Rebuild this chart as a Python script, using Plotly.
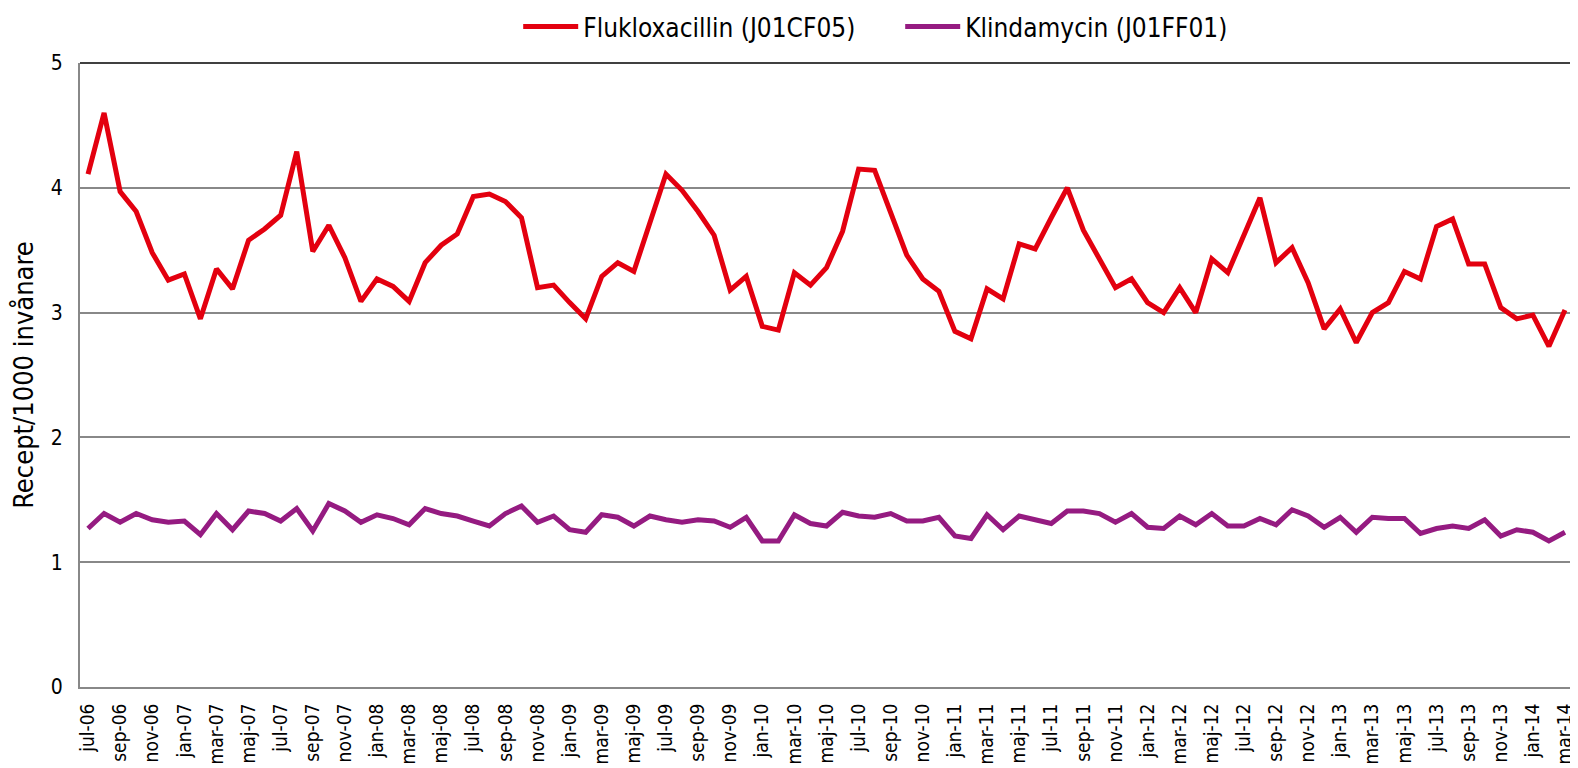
import plotly.graph_objects as go

months = ["jan", "feb", "mar", "apr", "maj", "jun", "jul", "aug", "sep", "okt", "nov", "dec"]
categories = []
for yr in range(2006, 2015):
    for mi, m in enumerate(months):
        if (yr == 2006 and mi < 6) or (yr == 2014 and mi > 2):
            continue
        categories.append(f"{m}-{str(yr)[2:]}")

flukloxacillin = [
    4.11, 4.60, 3.97, 3.81, 3.48, 3.26, 3.31, 2.95, 3.35, 3.19, 3.58, 3.67,
    3.78, 4.29, 3.49, 3.70, 3.44, 3.09, 3.27, 3.21, 3.09, 3.40, 3.54, 3.63,
    3.93, 3.95, 3.89, 3.76, 3.20, 3.22, 3.08, 2.95, 3.29, 3.40, 3.33, 3.72,
    4.11, 3.98, 3.81, 3.62, 3.18, 3.29, 2.89, 2.86, 3.32, 3.22, 3.36, 3.65,
    4.15, 4.14, 3.81, 3.46, 3.27, 3.17, 2.85, 2.79, 3.19, 3.11, 3.55, 3.51,
    3.76, 4.00, 3.66, 3.43, 3.20, 3.27, 3.08, 3.00, 3.20, 3.00, 3.43, 3.32,
    3.61, 3.92, 3.40, 3.52, 3.24, 2.87, 3.03, 2.76, 3.00, 3.08, 3.33, 3.27,
    3.69, 3.75, 3.39, 3.39, 3.04, 2.95, 2.98, 2.73, 3.02,
]

klindamycin = [
    1.27, 1.39, 1.32, 1.39, 1.34, 1.32, 1.33, 1.22, 1.39, 1.26, 1.41, 1.39,
    1.33, 1.43, 1.25, 1.47, 1.41, 1.32, 1.38, 1.35, 1.30, 1.43, 1.39, 1.37,
    1.33, 1.29, 1.39, 1.45, 1.32, 1.37, 1.26, 1.24, 1.38, 1.36, 1.29, 1.37,
    1.34, 1.32, 1.34, 1.33, 1.28, 1.36, 1.17, 1.17, 1.38, 1.31, 1.29, 1.40,
    1.37, 1.36, 1.39, 1.33, 1.33, 1.36, 1.21, 1.19, 1.38, 1.26, 1.37, 1.34,
    1.31, 1.41, 1.41, 1.39, 1.32, 1.39, 1.28, 1.27, 1.37, 1.30, 1.39, 1.29,
    1.29, 1.35, 1.30, 1.42, 1.37, 1.28, 1.36, 1.24, 1.36, 1.35, 1.35, 1.23,
    1.27, 1.29, 1.27, 1.34, 1.21, 1.26, 1.24, 1.17, 1.24,
]

tick_labels = categories[::2]
y_ticks = [0, 1, 2, 3, 4, 5]

FONT = "DejaVu Sans Condensed, DejaVu Sans, sans-serif"

fig = go.Figure()
fig.add_trace(go.Scatter(
    x=categories, y=flukloxacillin, mode="lines",
    name="Flukloxacillin (J01CF05)",
    line=dict(color="#E3000F", width=5),
))
fig.add_trace(go.Scatter(
    x=categories, y=klindamycin, mode="lines",
    name="Klindamycin (J01FF01)",
    line=dict(color="#951B81", width=5),
))

fig.update_layout(
    width=1570, height=760,
    margin=dict(l=72, r=5, t=55, b=81, autoexpand=False),
    paper_bgcolor="white", plot_bgcolor="white",
    font=dict(family=FONT, color="black"),
    legend=dict(
        orientation="h", x=0.2935, xanchor="left", y=1.0585, yanchor="middle",
        font=dict(size=26), tracegroupgap=0, itemwidth=55,
        entrywidth=312, entrywidthmode="pixels",
    ),
    showlegend=True,
    xaxis=dict(
        type="category", range=[-0.5, len(categories) - 0.5],
        tickmode="array", tickvals=tick_labels, ticktext=tick_labels,
        tickangle=-90, tickfont=dict(size=19), showgrid=False,
        showline=True, linecolor="#888888", linewidth=2, ticks="",
        ticklabelstandoff=7, automargin=False,
    ),
    yaxis=dict(
        range=[0, 5], tickmode="array", tickvals=y_ticks,
        tickfont=dict(size=21), showgrid=True, gridcolor="#888888", gridwidth=1.5,
        showline=True, linecolor="#888888", linewidth=2, ticks="",
        zeroline=False, ticklabelstandoff=11, automargin=False,
        title=dict(text="Recept/1000 invånare", font=dict(size=27), standoff=10),
    ),
    shapes=[
        dict(type="line", xref="paper", yref="paper", x0=0, x1=1, y0=1, y1=1,
             line=dict(color="black", width=1.5)),
        dict(type="line", xref="paper", yref="paper", x0=1, x1=1, y0=0, y1=1,
             line=dict(color="black", width=1.5)),
    ],
)

fig.write_html("out.html")
